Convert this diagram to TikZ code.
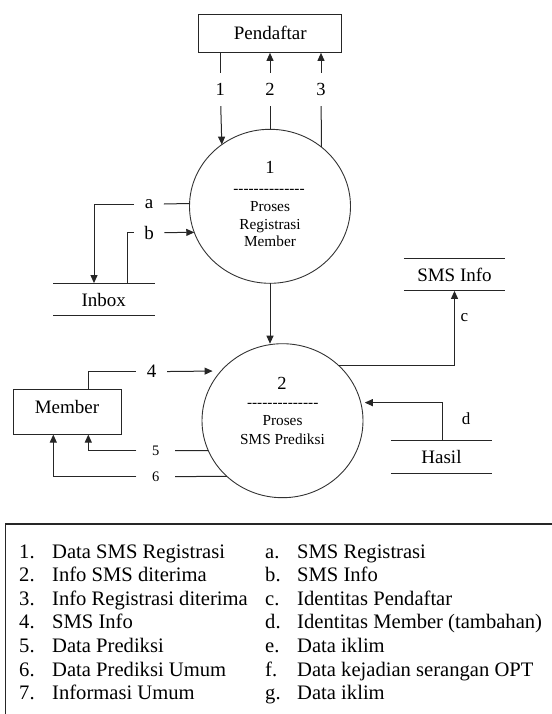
\documentclass[tikz,border=0pt]{standalone}
\usepackage{fontspec}
\setmainfont{Liberation Serif}
\usetikzlibrary{arrows.meta,shapes.geometric}
\newcommand\fsz[1]{\fontsize{#1}{#1}\selectfont}
% row of hyphens under the process number (boxed so no dash ligatures form)
\newcommand\hyphenrow{\mbox{-}\mbox{-}\mbox{-}\mbox{-}\mbox{-}\mbox{-}\mbox{-}\mbox{-}\mbox{-}\mbox{-}\mbox{-}\mbox{-}\mbox{-}\mbox{-}}
\begin{document}
\begin{tikzpicture}[x=1pt,y=-1pt,
  line/.style={draw=black!85,line width=1pt},
  flow/.style={line,-{Triangle[length=8pt,width=7pt]}},
  entity/.style={draw=black!85,line width=1pt,inner sep=0,font=\fsz{19}},
  store/.style={minimum width=101pt,minimum height=32.4pt,inner sep=0,font=\fsz{19}},
  proc/.style={ellipse,draw=black!80,line width=0.9pt,minimum width=161pt,minimum height=154pt,inner sep=0,outer sep=0},
  pnum/.style={font=\fsz{18.5},anchor=base,inner sep=0},
  ptext/.style={font=\fsz{15.3},anchor=base,inner sep=0},
  vlab/.style={font=\fsz{18.5},inner xsep=2pt,inner ysep=10.3pt},
  hlab/.style={font=\fsz{19},inner xsep=10.5pt,inner ysep=2pt},
  slab/.style={font=\fsz{14.5},inner xsep=15.5pt,inner ysep=2pt},
  side/.style={font=\fsz{17},inner sep=0},
  legend/.style={font=\fsz{20.6},anchor=base west,inner sep=0}]
\useasboundingbox (0,0) rectangle (551,714);

% external entities
\node[entity,minimum width=142.7pt,minimum height=38.3pt] (pend) at (270.3,33.2) {Pendaftar};
\node[entity,minimum width=107.7pt,minimum height=44.7pt] (member) at (67.8,411.7) {};
\node[font=\fsz{19},inner sep=0] (membertxt) at (67,407.3) {Member};

% data stores
\node[store] (inbox) at (103.8,299.5) {Inbox};
\node[store] (sms) at (454.5,274.5) {SMS Info};
\node[store] (hasil) at (441.5,457.2) {Hasil};
\foreach \s in {inbox,sms,hasil}
  \draw[line] (\s.north west) -- (\s.north east) (\s.south west) -- (\s.south east);

% process 1
\node[proc] (c1) at (270,206.3) {};
\node[pnum] (c1num) at (270,173.3) {1};
\node[ptext] (c1dash) at (269,193.9) {\hyphenrow};
\node[ptext] (c1t1) at (270,211.8) {Proses};
\node[ptext] (c1t2) at (270,229.3) {Registrasi};
\node[ptext] (c1t3) at (270,246.8) {Member};

% process 2
\node[proc] (c2) at (282.5,420.7) {};
\node[pnum] (c2num) at (282,389) {2};
\node[ptext] (c2dash) at (282.7,407.2) {\hyphenrow};
\node[ptext] (c2t1) at (282.5,425.4) {Proses};
\node[ptext] (c2t2) at (282.5,444.3) {SMS Prediksi};

% flows between Pendaftar and process 1
\node[vlab] (l1) at (220.3,89.5) {1};
\draw[line] (l1 |- pend.south) -- (l1);
\draw[flow] (l1) -- (c1.128.9);
\node[vlab] (l2) at (270,89.5) {2};
\draw[line] (c1.north) -- (l2);
\draw[flow] (l2) -- (l2 |- pend.south);
\node[vlab] (l3) at (321,89.5) {3};
\draw[line] (c1.49.4) -- (l3);
\draw[flow] (l3) -- (l3 |- pend.south);

% flows between Inbox and process 1
\node[hlab] (la) at (149,204.3) {a};
\node[hlab] (lb) at (149,232.7) {b};
\draw[line] (c1.178.6) -- (la);
\draw[flow] (la) -| ([xshift=-9.8pt]inbox.north);
\draw[line] ([xshift=23.9pt]inbox.north) |- (lb);
\draw[flow] (lb) -- (c1.199.25);

% process 1 to process 2
\draw[flow] (c1.south) -- (c1.south |- c2.north);

% flows between Member and process 2
\node[hlab] (l4) at (151.7,371.7) {4};
\draw[line] ([xshift=20.5pt]member.north) |- (l4);
\draw[flow,shorten >=8.5pt] (l4) -- (c2.141.8);
\node[slab] (l5) at (155.8,450.7) {5};
\draw[line] (c2.202) -- (l5);
\draw[flow] (l5) -| ([xshift=20.5pt]member.south);
\node[slab] (l6) at (155.8,476.7) {6};
\draw[line] (c2.225.4) -- (l6);
\draw[flow] (l6) -| ([xshift=-14.5pt]member.south);

% flows to SMS Info and from Hasil
\draw[flow] (c2.44) -| (sms.south);
\node[side] (lc) at (464.3,317.3) {c};
\draw[flow,shorten >=4pt] ([xshift=1.2pt]hasil.north) |- (c2.13.4);
\node[side] (ld) at (466,418.3) {d};

% legend frame
\draw[draw=black!85,line width=1.3pt] (560,524) -| (5.3,720);

% legend entries
\foreach \lnum/\ltext [count=\k from 0] in {1./Data SMS Registrasi,2./Info SMS diterima,3./Info Registrasi diterima,4./SMS Info,5./Data Prediksi,6./Data Prediksi Umum,7./Informasi Umum}{
  \node[legend] (num\k) at (19,{558+23.6*\k}) {\lnum};
  \node[legend] (txt\k) at (52,{558+23.6*\k}) {\ltext};
}
\foreach \lnum/\ltext [count=\k from 0] in {a./SMS Registrasi,b./SMS Info,c./Identitas Pendaftar,d./Identitas Member (tambahan),e./Data iklim,f./Data kejadian serangan OPT,g./Data iklim}{
  \node[legend] (let\k) at (265,{558+23.6*\k}) {\lnum};
  \node[legend] (ltx\k) at (297,{558+23.6*\k}) {\ltext};
}
\end{tikzpicture}
\end{document}
